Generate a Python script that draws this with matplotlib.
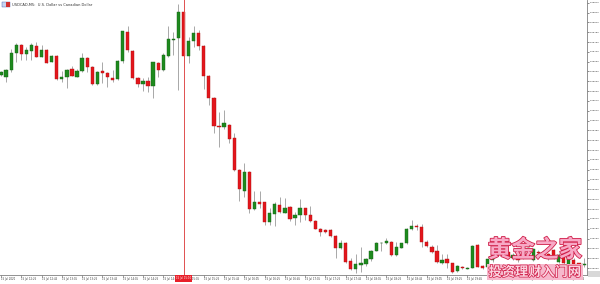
import matplotlib
matplotlib.use("Agg")
import matplotlib.pyplot as plt
import matplotlib.patheffects as pe
from matplotlib.patches import Rectangle
import numpy as np

# ---- data (USDCAD M5) ----
opens = [1.35649,1.35644,1.35664,1.35715,1.35741,1.35712,1.35723,1.35738,1.35705,1.35727,
         1.35690,1.35708,1.35637,1.35642,1.35669,1.35644,1.35662,1.35700,1.35675,1.35622,
         1.35661,1.35654,1.35641,1.35636,1.35692,1.35781,1.35724,1.35639,1.35621,1.35632,
         1.35616,1.35687,1.35664,1.35707,1.35757,1.35761,1.35842,1.35708,1.35754,1.35778,
         1.35739,1.35646,1.35580,1.35494,1.35491,1.35497,1.35458,1.35359,1.35295,1.35354,
         1.35239,1.35263,1.35261,1.35201,1.35225,1.35252,1.35229,1.35245,1.35212,1.35222,
         1.35242,1.35222,1.35204,1.35179,1.35176,1.35176,1.35158,1.35120,1.35138,1.35082,
         1.35056,1.35069,1.35072,1.35087,1.35113,1.35136,1.35138,1.35141,1.35100,1.35122,
         1.35136,1.35178,1.35189,1.35186,1.35141,1.35125,1.35112,1.35075,1.35087,1.35075,
         1.35052,1.35064,1.35058,1.35059,1.35130,1.35066,1.35064,1.35085,1.35100,1.35130,
         1.35110,1.35090,1.35097,1.35090,1.35110,1.35085,1.35110,1.35110,1.35103,1.35115,
         1.35080,1.35100,1.35069,1.35085,1.35075,1.35069]
highs = [1.35661,1.35669,1.35730,1.35746,1.35743,1.35736,1.35746,1.35751,1.35741,1.35729,
         1.35709,1.35710,1.35662,1.35669,1.35677,1.35669,1.35717,1.35703,1.35677,1.35661,
         1.35690,1.35659,1.35664,1.35694,1.35785,1.35799,1.35726,1.35644,1.35639,1.35642,
         1.35690,1.35690,1.35715,1.35799,1.35781,1.35866,1.35844,1.35766,1.35799,1.35788,
         1.35741,1.35648,1.35582,1.35537,1.35542,1.35499,1.35471,1.35361,1.35382,1.35356,
         1.35295,1.35296,1.35263,1.35242,1.35263,1.35278,1.35273,1.35249,1.35232,1.35270,
         1.35244,1.35248,1.35206,1.35181,1.35178,1.35178,1.35160,1.35146,1.35140,1.35090,
         1.35102,1.35123,1.35090,1.35115,1.35141,1.35140,1.35151,1.35143,1.35141,1.35138,
         1.35181,1.35207,1.35194,1.35194,1.35146,1.35130,1.35130,1.35103,1.35103,1.35077,
         1.35069,1.35066,1.35064,1.35130,1.35132,1.35069,1.35090,1.35107,1.35151,1.35136,
         1.35112,1.35105,1.35100,1.35120,1.35125,1.35120,1.35115,1.35115,1.35105,1.35118,
         1.35105,1.35103,1.35097,1.35090,1.35077,1.35090]
lows = [1.35647,1.35629,1.35659,1.35690,1.35695,1.35695,1.35695,1.35703,1.35703,1.35685,
        1.35688,1.35634,1.35629,1.35611,1.35645,1.35642,1.35659,1.35659,1.35619,1.35620,
        1.35624,1.35613,1.35629,1.35634,1.35687,1.35720,1.35637,1.35613,1.35601,1.35598,
        1.35580,1.35644,1.35662,1.35705,1.35710,1.35603,1.35675,1.35685,1.35736,1.35725,
        1.35608,1.35558,1.35471,1.35430,1.35486,1.35443,1.35357,1.35265,1.35278,1.35227,
        1.35237,1.35242,1.35193,1.35191,1.35189,1.35227,1.35227,1.35205,1.35192,1.35202,
        1.35207,1.35202,1.35178,1.35158,1.35166,1.35156,1.35092,1.35117,1.35077,1.35054,
        1.35044,1.35049,1.35066,1.35083,1.35112,1.35113,1.35133,1.35097,1.35097,1.35120,
        1.35133,1.35176,1.35176,1.35125,1.35125,1.35107,1.35075,1.35072,1.35059,1.35046,
        1.35049,1.35056,1.35056,1.35059,1.35062,1.35056,1.35062,1.35080,1.35097,1.35107,
        1.35090,1.35085,1.35080,1.35087,1.35107,1.35082,1.35100,1.35097,1.35085,1.35087,
        1.35077,1.35072,1.35066,1.35069,1.35067,1.35064]
closes = [1.35659,1.35664,1.35717,1.35741,1.35712,1.35725,1.35741,1.35705,1.35725,1.35687,
          1.35707,1.35636,1.35642,1.35666,1.35647,1.35661,1.35700,1.35675,1.35622,1.35659,
          1.35654,1.35642,1.35633,1.35692,1.35783,1.35725,1.35639,1.35621,1.35632,1.35617,
          1.35688,1.35664,1.35710,1.35758,1.35758,1.35842,1.35708,1.35754,1.35778,1.35739,
          1.35646,1.35578,1.35493,1.35491,1.35502,1.35453,1.35359,1.35300,1.35354,1.35239,
          1.35263,1.35257,1.35201,1.35229,1.35257,1.35232,1.35242,1.35210,1.35222,1.35242,
          1.35222,1.35204,1.35179,1.35171,1.35171,1.35158,1.35120,1.35138,1.35080,1.35056,
          1.35072,1.35077,1.35087,1.35113,1.35138,1.35138,1.35143,1.35100,1.35123,1.35136,
          1.35179,1.35189,1.35186,1.35141,1.35127,1.35110,1.35078,1.35085,1.35075,1.35049,
          1.35066,1.35059,1.35061,1.35128,1.35064,1.35059,1.35087,1.35100,1.35130,1.35110,
          1.35095,1.35100,1.35085,1.35115,1.35120,1.35117,1.35105,1.35100,1.35090,1.35090,
          1.35100,1.35075,1.35093,1.35073,1.35069,1.35073]

price_ticks = [round(1.35870 - 0.0003 * k, 5) for k in range(28)]
time_labels = ["15 Jul 2020", "15 Jul 12:25", "15 Jul 12:45", "15 Jul 13:05", "15 Jul 13:25",
               "15 Jul 13:45", "15 Jul 14:05", "15 Jul 14:25", "15 Jul 14:45", "15 Jul 15:05",
               "15 Jul 15:25", "15 Jul 15:45", "15 Jul 16:05", "15 Jul 16:25", "15 Jul 16:45",
               "15 Jul 17:05", "15 Jul 17:25", "15 Jul 17:45", "15 Jul 18:05", "15 Jul 18:25",
               "15 Jul 18:45", "15 Jul 19:05", "15 Jul 19:25", "15 Jul 19:45", "15 Jul 20:05",
               "15 Jul 20:25", "15 Jul 20:45", "15 Jul 21:05", "15 Jul 21:25"]
cursor_index = 36
cursor_label = "15 Jul 15:10"
title = "USDCAD,M5:  U.S. Dollar vs Canadian Dollar"

W, H = 600, 284
fig = plt.figure(figsize=(6, 2.84), dpi=100)
fig.patch.set_facecolor("white")
ax = fig.add_axes([0, 9 / H, 587 / W, 275 / H])
ax.set_facecolor("white")

o = np.array(opens); c = np.array(closes)
hi = np.array(highs); lo = np.array(lows)
x = np.arange(len(o))
up = c >= o
GREEN = "#1e8a1e"
RED = "#e3161c"

ax.vlines(x, lo, hi, color="#9a9a9a", linewidth=0.6, zorder=2)
bottoms = np.minimum(o, c)
heights = np.maximum(np.abs(c - o), 0.000012)
ax.bar(x[up], heights[up], bottom=bottoms[up], width=0.64, color=GREEN,
       edgecolor="#146014", linewidth=0.3, zorder=3)
ax.bar(x[~up], heights[~up], bottom=bottoms[~up], width=0.64, color=RED,
       edgecolor="#b01010", linewidth=0.3, zorder=3)

ax.axvline(cursor_index, color="#e05050", linewidth=0.7, zorder=4)

ax.set_xlim(-0.2, 115.6)
ax.set_ylim(1.350389, 1.358782)

for s in ["top", "left"]:
    ax.spines[s].set_visible(False)
for s in ["bottom", "right"]:
    ax.spines[s].set_color("#808080")
    ax.spines[s].set_linewidth(0.6)

ax.yaxis.tick_right()
ax.set_yticks(price_ticks)
ax.set_yticklabels([f"{v:.5f}" for v in price_ticks])
ax.tick_params(axis="y", direction="out", length=1.2, width=0.4, pad=0.5,
               labelsize=1.75, colors="#333333")

tick_pos = np.arange(0, len(o), 4)[:len(time_labels)]
ax.set_xticks(tick_pos)
ax.set_xticklabels([])
ax.tick_params(axis="x", direction="out", length=1.5, width=0.4, colors="#555555")
for p, lab in zip(tick_pos, time_labels):
    ax.text(p, -0.006, lab, transform=ax.get_xaxis_transform(), fontsize=1.85,
            ha="left", va="top", color="#333333")

ax.text(cursor_index, -0.005, cursor_label, transform=ax.get_xaxis_transform(),
        fontsize=1.85, ha="center", va="top", color="white",
        bbox=dict(boxstyle="square,pad=0.5", facecolor="#e8202a", edgecolor="none"), zorder=6)

# title and flag icon
fig.patches.append(Rectangle((2 / W, 1 - 7 / H), 8 / W, 5 / H, transform=fig.transFigure,
                             facecolor="#c8d4f0", edgecolor="#4060b0", linewidth=0.3))
fig.patches.append(Rectangle((6 / W, 1 - 7 / H), 4 / W, 5 / H, transform=fig.transFigure,
                             facecolor="#d03030", edgecolor="none"))
fig.text(12 / W, 1 - 4.5 / H, title, fontsize=2.6, ha="left", va="center", color="#333333")

# current price box on the axis
fig.patches.append(Rectangle((588 / W, 1 - 277 / H), 12 / W, 6 / H, transform=fig.transFigure,
                             facecolor="#d8d8d8", edgecolor="none"))

# watermark
cjk = ["Noto Sans CJK SC", "DejaVu Sans"]
fig.text(535 / W, 1 - 250 / H, "黄金之家", family=cjk, fontsize=17, ha="center", va="center",
         color="#f7a9c6", fontweight="bold",
         path_effects=[pe.withStroke(linewidth=1.2, foreground="#d0204a")], zorder=10)
fig.text(535 / W, 1 - 272 / H, "投资理财入门网", family=cjk, fontsize=9.5, ha="center",
         va="center", color="#fbd3e0", fontweight="bold",
         path_effects=[pe.withStroke(linewidth=1.0, foreground="#d0204a")],
         bbox=dict(boxstyle="square,pad=0.1", facecolor="#f6b8cc", edgecolor="none"), zorder=10)

fig.savefig("out.png", dpi=100, facecolor="white")
